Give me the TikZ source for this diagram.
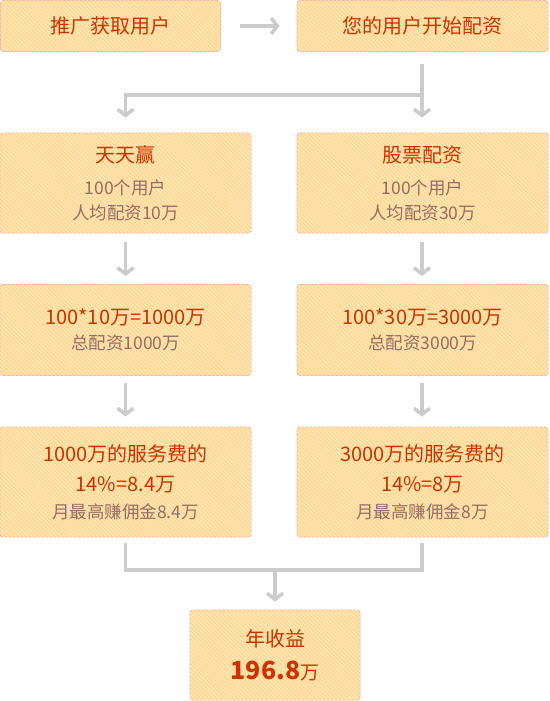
\documentclass[tikz,border=0pt]{standalone}
\usepackage{fontspec}
\setmainfont{Noto Sans CJK SC}
\usetikzlibrary{arrows.meta,patterns.meta}
\definecolor{boxfill}{HTML}{FFD992}
\definecolor{stripe}{HTML}{FFEBC6}
\definecolor{boxline}{HTML}{F5BB9E}
\definecolor{ttlcol}{HTML}{CC3300}
\definecolor{subcol}{HTML}{9C6B63}
\definecolor{flow}{HTML}{CCCCCC}
\newcommand{\ttl}{\fontsize{20}{25}\selectfont\color{ttlcol}}
\newcommand{\sbt}{\fontsize{17.5}{25}\selectfont\color{subcol}}
\tikzset{
  card/.style={draw=boxline, line width=0.9pt, fill=boxfill, rounded corners=3pt,
    inner sep=0pt, align=center, font=\fontsize{17}{25}\selectfont,
    postaction={pattern={Lines[angle=-45,distance=2.9pt,line width=0.9pt]},pattern color=stripe}},
  flowline/.style={draw=flow, line width=3.6pt},
  flowarrow/.style={flowline, -{Straight Barb[length=6pt,width=16pt]}}
}
\begin{document}
\begin{tikzpicture}[x=1pt,y=-1pt]
\useasboundingbox (0,0) rectangle (549,701);
% first row
\node[card, minimum width=220pt, minimum height=51pt] (a) at (110.5,26) {\ttl 推广获取用户};
\node[card, minimum width=251pt, minimum height=51pt] (b) at (422.5,26) {\ttl 您的用户开始配资};
% second row
\node[card, minimum width=251pt, minimum height=100pt] (l2) at (125.5,183)
  {\ttl 天天赢\\[7pt]\sbt 100个用户\\\sbt 人均配资10万};
\node[card, minimum width=251pt, minimum height=100pt] (r2) at (422.5,183)
  {\ttl 股票配资\\[7pt]\sbt 100个用户\\\sbt 人均配资30万};
% third row
\node[card, minimum width=251pt, minimum height=91pt] (l3) at (125.5,330)
  {\ttl 100*10万=1000万\\\sbt 总配资1000万};
\node[card, minimum width=251pt, minimum height=91pt] (r3) at (422.5,330)
  {\ttl 100*30万=3000万\\\sbt 总配资3000万};
% fourth row
\node[card, minimum width=251pt, minimum height=110pt] (l4) at (125.5,482)
  {\ttl 1000万的服务费的\\[5pt]\ttl 14\%=8.4万\\[2pt]\sbt 月最高赚佣金8.4万};
\node[card, minimum width=251pt, minimum height=110pt] (r4) at (422.5,482)
  {\ttl 3000万的服务费的\\[5pt]\ttl 14\%=8万\\[2pt]\sbt 月最高赚佣金8万};
% result
\node[card, minimum width=170pt, minimum height=90pt] (res) at (275,655)
  {\ttl 年收益\\[8pt]\ttl{\fontsize{25}{25}\selectfont\bfseries 196.8}{\fontsize{19}{25}\selectfont 万}};
% connectors
\coordinate (split) at (422,95);
\coordinate (splitl) at (125.5,95);
\coordinate (join) at (275,570);
\draw[flowarrow] ([xshift=19pt]a.east) -- ([xshift=-17pt]b.west);
\draw[flowline] ([yshift=-12pt]b.south -| split) -- (split);
\draw[flowarrow] (split) -- ([yshift=15pt]r2.north -| split);
\draw[flowarrow, line cap=butt] ([xshift=1.8pt]split) -- (splitl) -- ([yshift=15pt]l2.north);
\draw[flowarrow] ([yshift=-9pt]l2.south) -- ([yshift=8pt]l3.north);
\draw[flowarrow] ([yshift=-9pt]r2.south -| split) -- ([yshift=8pt]r3.north -| split);
\draw[flowarrow] ([yshift=-7pt]l3.south) -- ([yshift=10pt]l4.north);
\draw[flowarrow] ([yshift=-7pt]r3.south -| split) -- ([yshift=10pt]r4.north -| split);
\draw[flowline] ([yshift=-6pt]l4.south) |- (join) -| ([yshift=-6pt]r4.south -| split);
\draw[flowarrow] (join) -- ([yshift=8pt]res.north);
\end{tikzpicture}
\end{document}
